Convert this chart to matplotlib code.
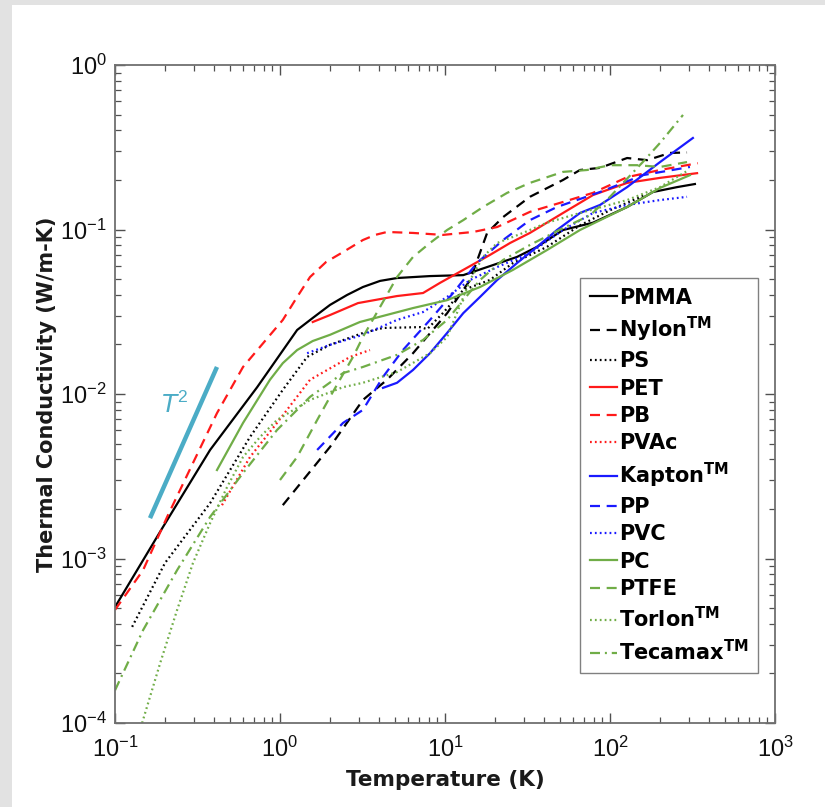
import matplotlib
matplotlib.use("Agg")
import matplotlib.pyplot as plt
from matplotlib.patches import Rectangle

plt.rcParams['font.family'] = ['Liberation Sans', 'DejaVu Sans']
plt.rcParams['mathtext.fontset'] = 'dejavusans'

# ---------------- data (T in K, k in W/m-K) ----------------
pmma_T = [0.1, 0.195, 0.377, 0.727, 1.27, 1.58, 2.01, 2.55, 3.18, 4.04, 5.12, 8.11, 12.9, 18.0, 27.3, 36.1, 51.9, 78.9, 127, 182, 255, 327]
pmma_k = [5.07e-4, 1.55e-3, 4.57e-3, 0.0110, 0.0245, 0.029, 0.0348, 0.040, 0.0447, 0.0487, 0.0507, 0.0521, 0.0528, 0.0591, 0.0681, 0.0784, 0.0993, 0.110, 0.137, 0.169, 0.181, 0.189]

nylon_T = [1.04, 2.01, 3.18, 4.45, 6.40, 10.3, 14.2, 18.0, 22.5, 32.7, 51.9, 65.8, 87, 127, 168, 231, 293]
nylon_k = [2.11e-3, 4.77e-3, 9.2e-3, 0.0122, 0.0177, 0.0310, 0.0493, 0.0953, 0.119, 0.158, 0.200, 0.230, 0.237, 0.272, 0.264, 0.292, 0.294]

ps_T = [0.127, 0.201, 0.377, 0.658, 1.04, 1.46, 2.01, 3.18, 4.21, 7.05, 7.8, 9.7, 12.9, 18.7, 25.8, 41.5, 65.8, 100, 163]
ps_k = [3.84e-4, 9.4e-4, 2.17e-3, 5.48e-3, 0.0106, 0.0168, 0.0199, 0.0235, 0.0252, 0.0255, 0.0248, 0.0310, 0.0429, 0.0493, 0.0625, 0.0784, 0.106, 0.131, 0.162]

pet_T = [1.58, 2.01, 2.97, 5.12, 7.36, 9.3, 12.9, 18.7, 24.8, 32.7, 51.9, 78.9, 127, 201, 337]
pet_k = [0.0274, 0.0302, 0.0357, 0.0394, 0.0411, 0.0473, 0.0568, 0.070, 0.0828, 0.0953, 0.126, 0.162, 0.192, 0.206, 0.220]

pb_T = [0.1, 0.148, 0.207, 0.297, 0.415, 0.597, 1.04, 1.27, 1.52, 1.90, 2.41, 3.18, 3.77, 4.45, 6.40, 9.7, 14.8, 20.7, 32.7, 51.9, 78.9, 127, 201, 341]
pb_k = [4.87e-4, 8.5e-4, 1.79e-3, 3.81e-3, 7.65e-3, 0.0146, 0.0282, 0.0389, 0.0514, 0.0634, 0.0729, 0.0863, 0.0927, 0.0966, 0.0953, 0.0927, 0.0966, 0.1035, 0.128, 0.147, 0.167, 0.208, 0.230, 0.253]

pvac_T = [0.445, 0.658, 0.959, 1.52, 2.66, 3.51]
pvac_k = [2.11e-3, 4.14e-3, 6.67e-3, 0.0122, 0.0168, 0.0185]

kapton_T = [4.21, 5.12, 6.40, 8.11, 10.3, 12.9, 16.3, 20.7, 27.3, 36.1, 47.7, 65.8, 87, 127, 201, 318]
kapton_k = [0.0109, 0.0117, 0.0140, 0.0177, 0.0235, 0.0310, 0.0389, 0.0493, 0.0625, 0.0784, 0.0993, 0.126, 0.141, 0.181, 0.257, 0.360]

pp_T = [1.68, 2.41, 3.18, 4.21, 5.56, 8.11, 11.2, 15.6, 22.5, 32.7, 47.7, 87, 158, 305]
pp_k = [4.57e-3, 6.67e-3, 8.0e-3, 0.0127, 0.0185, 0.0282, 0.0411, 0.0625, 0.0863, 0.114, 0.137, 0.169, 0.214, 0.240]

pvc_T = [1.46, 2.01, 3.18, 5.12, 7.36, 10.3, 14.2, 20.7, 32.7, 51.9, 78.9, 127, 201, 293]
pvc_k = [0.0177, 0.0199, 0.0229, 0.0282, 0.0315, 0.0389, 0.0493, 0.0591, 0.072, 0.0993, 0.126, 0.141, 0.151, 0.158]

pc_T = [0.415, 0.597, 0.869, 1.04, 1.27, 1.58, 2.01, 3.05, 6.40, 10.3, 16.3, 25.8, 41.5, 65.8, 127, 201, 305]
pc_k = [3.45e-3, 6.67e-3, 0.0122, 0.0154, 0.0185, 0.0210, 0.0229, 0.0274, 0.0333, 0.0372, 0.0447, 0.0568, 0.075, 0.0993, 0.137, 0.179, 0.214]

ptfe_T = [1.0, 1.27, 1.68, 2.01, 2.77, 3.18, 4.04, 5.12, 6.40, 8.11, 10.3, 12.9, 17.0, 23.8, 32.7, 51.9, 72.6, 100, 146, 201, 293]
ptfe_k = [3.0e-3, 4.14e-3, 6.95e-3, 9.6e-3, 0.0168, 0.0222, 0.0338, 0.0514, 0.0681, 0.0828, 0.0993, 0.114, 0.137, 0.167, 0.192, 0.224, 0.230, 0.246, 0.246, 0.240, 0.257]

torlon_T = [0.146, 0.188, 0.238, 0.297, 0.377, 0.478, 0.597, 0.757, 0.959, 1.52, 2.41, 3.18, 5.12, 8.11, 10.3, 11.8, 14.2, 17.0, 20.7, 29.7, 41.5, 65.8, 127, 201, 300]
torlon_k = [1.0e-4, 2.32e-4, 4.87e-4, 9.4e-4, 1.64e-3, 2.72e-3, 4.14e-3, 5.48e-3, 6.95e-3, 9.2e-3, 0.0110, 0.0117, 0.0136, 0.0177, 0.0222, 0.0310, 0.0493, 0.0681, 0.0828, 0.0953, 0.110, 0.126, 0.151, 0.181, 0.230]

tecamax_T = [0.1, 0.148, 0.238, 0.377, 0.597, 0.959, 1.52, 2.41, 3.18, 5.12, 7.36, 10.3, 12.9, 16.3, 22.5, 32.7, 51.9, 75.7, 100, 158, 201, 277]
tecamax_k = [1.58e-4, 3.67e-4, 8.5e-4, 1.79e-3, 3.31e-3, 6.04e-3, 9.6e-3, 0.0134, 0.0146, 0.0173, 0.0213, 0.0282, 0.0372, 0.0493, 0.0653, 0.0805, 0.102, 0.122, 0.158, 0.257, 0.336, 0.497]

t2_T = [0.163, 0.415]
t2_k = [1.76e-3, 0.0146]

labels = ['PMMA', 'Nylon$^{\\mathdefault{TM}}$', 'PS', 'PET', 'PB', 'PVAc',
          'Kapton$^{\\mathdefault{TM}}$', 'PP', 'PVC', 'PC', 'PTFE',
          'Torlon$^{\\mathdefault{TM}}$', 'Tecamax$^{\\mathdefault{TM}}$']

# ---------------- styles ----------------
BLACK, RED, BLUE, GREEN = '#000000', '#ff1a1a', '#1a1aff', '#70ad47'
DASH = (0, (4.5, 3.0))
DOT = (0, (0.8, 1.4))
DASHDOT = (0, (4.5, 2.2, 0.9, 2.2))
series = [
    (pmma_T, pmma_k, BLACK, '-'),
    (nylon_T, nylon_k, BLACK, DASH),
    (ps_T, ps_k, BLACK, DOT),
    (pet_T, pet_k, RED, '-'),
    (pb_T, pb_k, RED, DASH),
    (pvac_T, pvac_k, RED, DOT),
    (kapton_T, kapton_k, BLUE, '-'),
    (pp_T, pp_k, BLUE, DASH),
    (pvc_T, pvc_k, BLUE, DOT),
    (pc_T, pc_k, GREEN, '-'),
    (ptfe_T, ptfe_k, GREEN, DASH),
    (torlon_T, torlon_k, GREEN, DOT),
    (tecamax_T, tecamax_k, GREEN, DASHDOT),
]

fig = plt.figure(figsize=(8.25, 8.07), dpi=100)
fig.patch.set_facecolor('white')
fig.patches.append(Rectangle((0, 0), 12 / 825, 1, transform=fig.transFigure,
                             facecolor='#e2e2e2', edgecolor='none', zorder=-5))
fig.patches.append(Rectangle((0, 1 - 5 / 807), 1, 5 / 807, transform=fig.transFigure,
                             facecolor='#e2e2e2', edgecolor='none', zorder=-5))

ax = fig.add_axes([115 / 825, 1 - 723 / 807, 660 / 825, 658 / 807])
ax.set_xscale('log')
ax.set_yscale('log')
ax.set_xlim(0.1, 1000)
ax.set_ylim(1e-4, 1)

handles = []
for (T, k, c, ls), lab in zip(series, labels):
    h, = ax.plot(T, k, color=c, linestyle=ls, lw=1.6, label=lab)
    handles.append(h)

ax.plot(t2_T, t2_k, color='#4bacc6', lw=3.2, solid_capstyle='butt')
ax.text(0.231, 8.6e-3, r'$\mathit{T}^{\mathdefault{2}}$', color='#4bacc6',
        fontsize=18, ha='center', va='center')

for sp in ax.spines.values():
    sp.set_color('#707070')
    sp.set_linewidth(1.3)
ax.tick_params(which='both', direction='in', top=True, right=True, colors='#505050',
               labelcolor='#111111', labelsize=17)
ax.tick_params(which='major', length=7, width=1.0)
ax.tick_params(which='minor', length=4, width=0.9)
ax.tick_params(axis='x', pad=10)
ax.tick_params(axis='y', pad=6)

ax.set_xlabel('Temperature (K)', fontsize=15.5, fontweight='bold', family='DejaVu Sans',
              color='#1a1a1a', labelpad=6)
ax.set_ylabel('Thermal Conductivity (W/m-K)', fontsize=15, fontweight='bold',
              family='DejaVu Sans', color='#1a1a1a', labelpad=2)

leg = ax.legend(handles=handles, loc='upper left', bbox_to_anchor=(0.705, 0.676),
                prop={'family': 'DejaVu Sans', 'weight': 'bold', 'size': 15},
                frameon=True, fancybox=False, edgecolor='#808080', framealpha=1,
                handlelength=1.3, handletextpad=0.12, labelspacing=0.35,
                borderpad=0.45, borderaxespad=0)
leg.get_frame().set_linewidth(1.0)
for lh in leg.get_lines():
    lh.set_linewidth(1.6)

fig.savefig('out.png', dpi=100)
